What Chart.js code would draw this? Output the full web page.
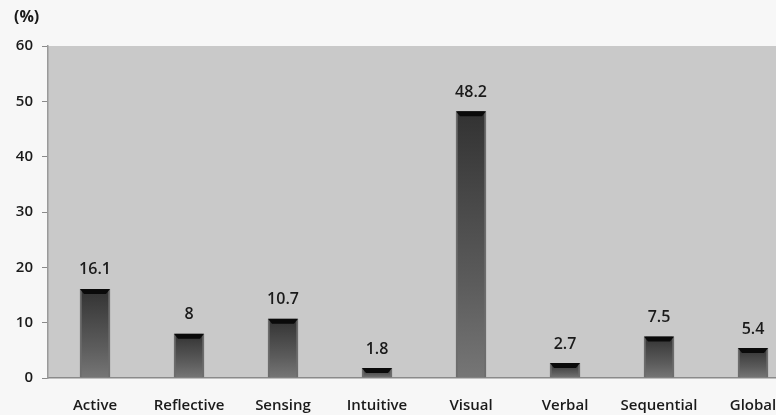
<!DOCTYPE html>
<html>
<head>
<meta charset="utf-8">
<script src="https://cdn.jsdelivr.net/npm/chart.js@4/dist/chart.umd.min.js"></script>
<style>
  html, body { margin: 0; padding: 0; background: #f7f7f7; overflow: hidden; }
  #wrap { width: 800px; height: 415px; }
</style>
</head>
<body>
<div id="wrap"><canvas id="c" width="800" height="415"></canvas></div>
<script>
// Learning-style preference shares (%)
const styles = ['Active', 'Reflective', 'Sensing', 'Intuitive', 'Visual', 'Verbal', 'Sequential', 'Global'];
const shares = [16.1, 8, 10.7, 1.8, 48.2, 2.7, 7.5, 5.4];
const yTicks = [0, 10, 20, 30, 40, 50, 60];
const unitLabel = '(%)';

const FONT = '"Open Sans", "DejaVu Sans", sans-serif';

// Page and plot-area backgrounds
const backdrop = {
  id: 'backdrop',
  beforeDraw(chart) {
    const { ctx, chartArea: a, width, height } = chart;
    ctx.save();
    ctx.fillStyle = '#f7f7f7';
    ctx.fillRect(0, 0, width, height);
    ctx.fillStyle = '#c9c9c9';
    ctx.fillRect(a.left, a.top, a.right - a.left, a.bottom - a.top);
    ctx.restore();
  }
};

// Black cap on top of each column plus the value above it
const capsAndValues = {
  id: 'capsAndValues',
  afterDatasetsDraw(chart) {
    const { ctx } = chart;
    const meta = chart.getDatasetMeta(0);
    ctx.save();
    meta.data.forEach((bar, i) => {
      const half = bar.width / 2;
      const top = bar.y;
      ctx.fillStyle = '#0a0a0a';
      ctx.beginPath();
      ctx.moveTo(bar.x - half, top);
      ctx.lineTo(bar.x + half, top);
      ctx.lineTo(bar.x + half - 4, top + 5);
      ctx.lineTo(bar.x - half + 4, top + 5);
      ctx.closePath();
      ctx.fill();

      ctx.fillStyle = '#1a1a1a';
      ctx.font = '600 16px ' + FONT;
      ctx.textAlign = 'center';
      ctx.textBaseline = 'middle';
      ctx.fillText(String(shares[i]), bar.x, top - 19);
    });
    ctx.fillStyle = '#1a1a1a';
    ctx.font = 'bold 16px ' + FONT;
    ctx.textAlign = 'left';
    ctx.textBaseline = 'middle';
    ctx.fillText(unitLabel, 14, 17);
    ctx.restore();
  }
};

// Column shading: dark near the top, lighter toward the baseline
function columnFill(context) {
  const chart = context.chart;
  const a = chart.chartArea;
  const ys = chart.scales && chart.scales.y;
  if (!a || !ys || context.raw === undefined) return '#4a4a4a';
  const top = ys.getPixelForValue(context.raw);
  const bottom = ys.getPixelForValue(0);
  const g = chart.ctx.createLinearGradient(0, top, 0, bottom);
  g.addColorStop(0, '#323232');
  g.addColorStop(0.3, '#464646');
  g.addColorStop(0.65, '#5c5c5c');
  g.addColorStop(1, '#767676');
  return g;
}

new Chart(document.getElementById('c'), {
  type: 'bar',
  data: {
    labels: styles,
    datasets: [{
      data: shares,
      backgroundColor: columnFill,
      borderColor: '#6c6c6c',
      borderWidth: { left: 2, right: 2, top: 0, bottom: 0 },
      borderSkipped: false,
      barThickness: 30
    }]
  },
  options: {
    responsive: false,
    animation: false,
    layout: { padding: { top: 46, left: 0, right: 0, bottom: 0 } },
    plugins: {
      legend: { display: false },
      tooltip: { enabled: false }
    },
    scales: {
      x: {
        grid: { display: false, drawTicks: false },
        border: { display: true, color: '#8a8a8a', width: 1.5 },
        ticks: {
          color: '#1a1a1a',
          font: { family: FONT, size: 15, weight: '600' },
          padding: 19,
          maxRotation: 0,
          autoSkip: false
        },
        afterFit(scale) { scale.height = 37; }
      },
      y: {
        min: 0,
        max: 60,
        afterBuildTicks(scale) { scale.ticks = yTicks.map(v => ({ value: v })); },
        grid: { display: true, drawOnChartArea: false, drawTicks: true, tickLength: 6, color: '#8a8a8a' },
        border: { display: true, color: '#9a9a9a', width: 1.5 },
        ticks: {
          color: '#1a1a1a',
          font: { family: FONT, size: 15, weight: '600' },
          padding: 9
        },
        afterFit(scale) { scale.width = 48; }
      }
    }
  },
  plugins: [backdrop, capsAndValues]
});
</script>
</body>
</html>
